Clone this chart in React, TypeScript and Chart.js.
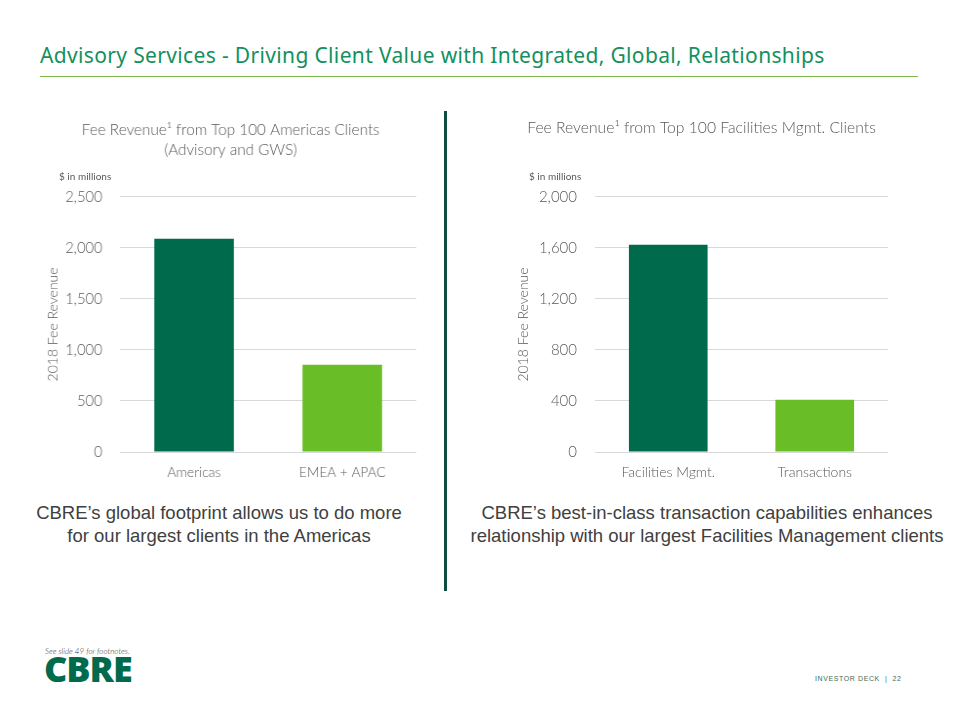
import React, { useEffect, useRef } from "react";
import { Chart, registerables } from "chart.js";

Chart.register(...registerables);

// ---------- data ----------
const leftCategories = ["Americas", "EMEA + APAC"];
const leftValues = [2090, 855];
const leftTicks = [0, 500, 1000, 1500, 2000, 2500];
const leftTitle = ["Fee Revenue¹ from Top 100 Americas Clients", "(Advisory and GWS)"];

const rightCategories = ["Facilities Mgmt.", "Transactions"];
const rightValues = [1625, 410];
const rightTicks = [0, 400, 800, 1200, 1600, 2000];
const rightTitle = ["Fee Revenue¹ from Top 100 Facilities Mgmt. Clients"];

const barColors = ["#006A4D", "#69BE28"];
const yAxisTitle = "2018 Fee Revenue";
const unitsLabel = "$ in millions";

const pageTitle = "Advisory Services - Driving Client Value with Integrated, Global, Relationships";
const leftNote = ["CBRE’s global footprint allows us to do more", "for our largest clients in the Americas"];
const rightNote = ["CBRE’s best-in-class transaction capabilities enhances", "relationship with  our largest Facilities Management clients"];

const GRAY = "#595959";
const LIGHT_FONT = "Lato, 'DejaVu Sans', sans-serif";

type PanelProps = {
  categories: string[];
  values: number[];
  ticks: number[];
  title: string[];
  yWidth: number;
  leftPad: number;
  titleTopPad: number;
  titleBottomPad: number;
  rightPad: number;
  tickPad: number;
};

function BarPanel(p: PanelProps) {
  const ref = useRef<HTMLCanvasElement | null>(null);
  useEffect(() => {
    if (!ref.current) return;
    const max = p.ticks[p.ticks.length - 1];
    const step = p.ticks[1] - p.ticks[0];
    const chart = new Chart(ref.current, {
      type: "bar",
      data: {
        labels: p.categories,
        datasets: [
          {
            data: p.values,
            backgroundColor: barColors,
            borderWidth: 0,
            categoryPercentage: 0.537,
            barPercentage: 1,
          },
        ],
      },
      options: {
        animation: false,
        responsive: false,
        maintainAspectRatio: false,
        layout: { padding: { left: p.leftPad, right: p.rightPad, top: 0, bottom: 0 } },
        plugins: {
          legend: { display: false },
          tooltip: { enabled: false },
          title: {
            display: true,
            text: p.title,
            color: GRAY,
            font: { family: LIGHT_FONT, size: 15.7, weight: "300", lineHeight: 1.27 },
            padding: { top: p.titleTopPad, bottom: p.titleBottomPad },
          },
        },
        scales: {
          x: {
            grid: { display: false, drawTicks: false },
            border: { display: false },
            ticks: {
              color: GRAY,
              padding: 12,
              font: { family: LIGHT_FONT, size: 14, weight: "300" },
            },
            afterFit: (scale: any) => {
              scale.height = 38;
            },
          },
          y: {
            min: 0,
            max: max,
            ticks: {
              stepSize: step,
              color: GRAY,
              padding: p.tickPad,
              font: { family: LIGHT_FONT, size: 15, weight: "300" },
              callback: (v: any) => Number(v).toLocaleString("en-US"),
            },
            grid: { color: "#d9d9d9", lineWidth: 1, drawTicks: false },
            border: { display: false },
            title: {
              display: true,
              text: yAxisTitle,
              color: GRAY,
              padding: { top: 0, bottom: 0 },
              font: { family: LIGHT_FONT, size: 14, weight: "300" },
            },
            afterFit: (scale: any) => {
              scale.width = p.yWidth;
            },
          },
        },
      },
    } as any);
    return () => chart.destroy();
  }, []);
  return <canvas ref={ref} width={400} height={380} style={{ width: "100%", height: "100%", display: "block" }} />;
}

export default function App() {
  useEffect(() => {
    document.body.style.margin = "0";
  }, []);
  const noteStyle: React.CSSProperties = {
    position: "absolute",
    fontFamily: "'Liberation Sans', Arial, sans-serif",
    fontSize: 18.5,
    lineHeight: "23px",
    color: "#404040",
    textAlign: "center",
    letterSpacing: 0,
    whiteSpace: "nowrap",
  };
  return (
    <div style={{ position: "fixed", left: 0, top: 0, width: 960, height: 720, background: "#fff", overflow: "hidden" }}>
      <div
        style={{
          position: "absolute",
          left: 40,
          top: 41,
          fontFamily: "'Noto Sans', 'Open Sans', sans-serif",
          fontSize: 21,
          color: "#13905E",
          whiteSpace: "nowrap",
          letterSpacing: 0.35,
        }}
      >
        {pageTitle}
      </div>
      <div style={{ position: "absolute", left: 40, top: 76, width: 878, height: 1, background: "#7AB648" }} />
      <div style={{ position: "absolute", left: 444, top: 111, width: 3, height: 480, background: "#0D4F3F" }} />

      <div style={{ position: "absolute", left: 40, top: 110, width: 390, height: 380 }}>
        <BarPanel
          categories={leftCategories}
          values={leftValues}
          ticks={leftTicks}
          title={leftTitle}
          yWidth={77}
          leftPad={5}
          titleTopPad={10}
          titleBottomPad={37}
          rightPad={14}
          tickPad={18}
        />
      </div>
      <div style={{ position: "absolute", left: 500, top: 110, width: 400, height: 380 }}>
        <BarPanel
          categories={rightCategories}
          values={rightValues}
          ticks={rightTicks}
          title={rightTitle}
          yWidth={80}
          leftPad={15}
          titleTopPad={8}
          titleBottomPad={59}
          rightPad={12}
          tickPad={18}
        />
      </div>

      <div style={{ position: "absolute", left: 59, top: 170, fontFamily: LIGHT_FONT, fontSize: 10, color: GRAY }}>{unitsLabel}</div>
      <div style={{ position: "absolute", left: 529, top: 170, fontFamily: LIGHT_FONT, fontSize: 10, color: GRAY }}>{unitsLabel}</div>

      <div style={{ ...noteStyle, left: 19, top: 501, width: 400 }}>
        {leftNote[0]}
        <br />
        {leftNote[1]}
      </div>
      <div style={{ ...noteStyle, left: 457, top: 501, width: 500 }}>
        {rightNote[0]}
        <br />
        {rightNote[1]}
      </div>

      <div style={{ position: "absolute", left: 45, top: 646, fontFamily: LIGHT_FONT, fontStyle: "italic", fontWeight: 300, fontSize: 8, color: "#333" }}>
        See slide  49 for footnotes.
      </div>
      <div
        style={{
          position: "absolute",
          left: 44,
          top: 651,
          fontFamily: "'Open Sans', 'DejaVu Sans', sans-serif",
          fontWeight: 800,
          fontSize: 36,
          lineHeight: "36px",
          color: "#006A4D",
          letterSpacing: -1,
        }}
      >
        CBRE
      </div>
      <div
        style={{
          position: "absolute",
          left: 815,
          top: 675,
          fontFamily: "'Liberation Sans', Arial, sans-serif",
          fontSize: 7,
          color: "#3E6B5A",
          letterSpacing: 0.6,
        }}
      >
        INVESTOR DECK &nbsp;|&nbsp; 22
      </div>
    </div>
  );
}
